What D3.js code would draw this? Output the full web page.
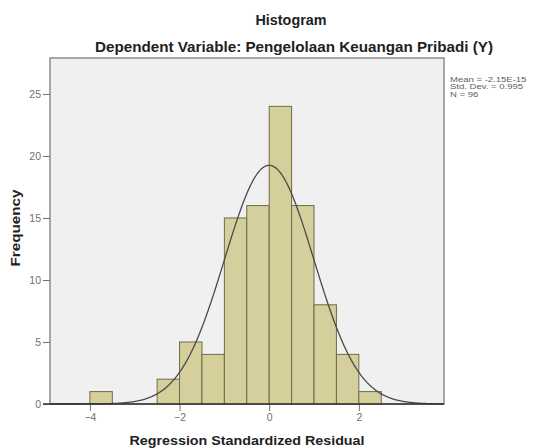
<!DOCTYPE html>
<meta charset="utf-8">
<head>
	<title>Histogram</title>
	<script type="text/javascript" src="https://cdn.jsdelivr.net/npm/d3@7/dist/d3.min.js"></script>
	<style>
		body { margin: 0; background: #fff; font-family: "Liberation Sans", Arial, sans-serif; }
		.frame { fill: #f0f0f0; stroke: #8c8c8c; stroke-width: 1.5; }
		.bar { fill: #d4cf9b; stroke: #6d6c48; stroke-width: 1; }
		.curve { fill: none; stroke: #4a4a4a; stroke-width: 1.3; }
		.tick text { fill: #707070; font-size: 10.5px; }
		.tick line { stroke: #707070; }
		.title { font-weight: bold; fill: #222; }
	</style>
</head>
<body>
<div id="chart"></div>
<script>
	// bins (left edge) and counts
	var binStarts = [-4, -2.5, -2, -1.5, -1, -0.5, 0, 0.5, 1, 1.5, 2];
	var counts = [1, 2, 5, 4, 15, 16, 24, 16, 8, 4, 1];
	var binWidth = 0.5;
	var xTicks = [-4, -2, 0, 2];
	var yTicks = [0, 5, 10, 15, 20, 25];
	var stats = { mean: 0, sd: 0.995, n: 96 };
	var legendLines = ["Mean = -2.15E-15", "Std. Dev. = 0.995", "N = 96"];

	var width = 534, height = 448;
	var plot = { left: 50, right: 444, top: 58, bottom: 404 };

	var svg = d3.select("#chart").append("svg")
		.attr("width", width)
		.attr("height", height);

	var x = d3.scaleLinear().domain([-4.89, 3.9]).range([plot.left, plot.right]);
	var y = d3.scaleLinear().domain([0, 27.9]).range([plot.bottom, plot.top]);

	svg.append("rect")
		.attr("class", "frame")
		.attr("x", plot.left)
		.attr("y", plot.top)
		.attr("width", plot.right - plot.left)
		.attr("height", plot.bottom - plot.top);

	svg.selectAll(".bar")
		.data(binStarts)
		.enter().append("rect")
		.attr("class", "bar")
		.attr("x", function(d) { return x(d); })
		.attr("y", function(d, i) { return y(counts[i]); })
		.attr("width", function(d) { return x(d + binWidth) - x(d); })
		.attr("height", function(d, i) { return y(0) - y(counts[i]); });

	// fitted normal curve from the stats in the legend
	var xs = d3.range(-4.89, 3.9001, 0.02);
	var line = d3.line()
		.x(function(d) { return x(d); })
		.y(function(d) {
			var z = (d - stats.mean) / stats.sd;
			return y(stats.n * binWidth * Math.exp(-0.5 * z * z) / (stats.sd * Math.sqrt(2 * Math.PI)));
		});
	svg.append("path").attr("class", "curve").attr("d", line(xs));

	// axes
	var xAxis = svg.append("g")
		.attr("transform", "translate(0," + plot.bottom + ")")
		.call(d3.axisBottom(x).tickValues(xTicks).tickSize(7).tickPadding(3));
	xAxis.select(".domain").remove();

	var yAxis = svg.append("g")
		.attr("transform", "translate(" + plot.left + ",0)")
		.call(d3.axisLeft(y).tickValues(yTicks).tickSize(7).tickPadding(2));
	yAxis.select(".domain").remove();

	svg.append("line")
		.attr("x1", plot.left - 7).attr("x2", plot.right)
		.attr("y1", plot.bottom).attr("y2", plot.bottom)
		.attr("stroke", "#333").attr("stroke-width", 1.5);

	// titles
	svg.append("text").attr("class", "title")
		.attr("x", 291).attr("y", 25)
		.attr("text-anchor", "middle")
		.style("font-size", "14px")
		.attr("textLength", 71).attr("lengthAdjust", "spacingAndGlyphs")
		.text("Histogram");

	svg.append("text").attr("class", "title")
		.attr("x", 294).attr("y", 52)
		.attr("text-anchor", "middle")
		.style("font-size", "14px")
		.attr("textLength", 398).attr("lengthAdjust", "spacingAndGlyphs")
		.text("Dependent Variable: Pengelolaan Keuangan Pribadi (Y)");

	svg.append("text").attr("class", "title")
		.attr("x", (plot.left + plot.right) / 2).attr("y", 445)
		.attr("text-anchor", "middle")
		.style("font-size", "13.5px")
		.attr("textLength", 235).attr("lengthAdjust", "spacingAndGlyphs")
		.text("Regression Standardized Residual");

	svg.append("text").attr("class", "title")
		.attr("transform", "translate(20,228) rotate(-90)")
		.attr("text-anchor", "middle")
		.style("font-size", "12.5px")
		.attr("textLength", 77).attr("lengthAdjust", "spacingAndGlyphs")
		.text("Frequency");

	svg.append("g")
		.attr("transform", "translate(450,0) scale(1.4,1)")
		.selectAll("text")
		.data(legendLines)
		.enter().append("text")
		.attr("x", 0)
		.attr("y", function(d, i) { return 82 + i * 7.5; })
		.style("font-size", "6.8px").style("fill", "#606060")
		.text(function(d) { return d; });
</script>
</body>
